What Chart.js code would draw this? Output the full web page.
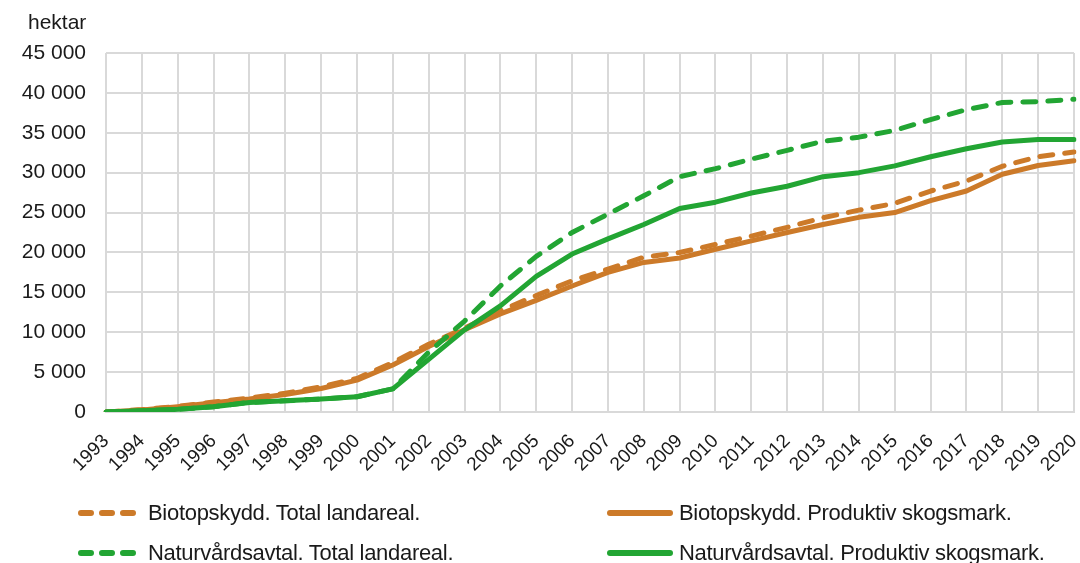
<!DOCTYPE html>
<html>
<head>
<meta charset="utf-8">
<script src="https://cdn.jsdelivr.net/npm/chart.js@4/dist/chart.umd.min.js"></script>
<style>
  html, body { margin: 0; padding: 0; background: #fff; }
  #wrap { position: relative; width: 1080px; height: 563px; overflow: hidden; font-family: "Liberation Sans", Arial, sans-serif; color: #1a1a1a; }
  #c { position: absolute; left: 0; top: 0; }
  #unit { position: absolute; left: 28px; top: 10px; font-size: 21px; }
  .lg { position: absolute; display: flex; align-items: center; font-size: 22px; letter-spacing: -0.3px; white-space: nowrap; }
  .lg svg { display: block; margin-right: 6px; }
</style>
</head>
<body>
<div id="wrap">
  <canvas id="c" width="1080" height="563"></canvas>
  <div id="unit">hektar</div>
  <div id="legend"></div>
</div>
<script>
const years = ["1993","1994","1995","1996","1997","1998","1999","2000","2001","2002","2003","2004","2005","2006","2007","2008","2009","2010","2011","2012","2013","2014","2015","2016","2017","2018","2019","2020"];

const biotopTotal = [0, 300, 700, 1250, 1750, 2350, 3150, 4200, 6200, 8500, 10500, 12700, 14600, 16450, 17900, 19400, 20000, 21000, 22050, 23150, 24350, 25300, 26150, 27700, 28950, 30800, 32000, 32600];
const biotopProd = [0, 250, 670, 1170, 1630, 2200, 2950, 4000, 5900, 8200, 10300, 12300, 14000, 15800, 17500, 18750, 19300, 20400, 21450, 22500, 23500, 24400, 25000, 26500, 27700, 29800, 30900, 31500];
const naturTotal = [0, 150, 330, 670, 1200, 1400, 1630, 1920, 2900, 7500, 11400, 15800, 19500, 22500, 24800, 27100, 29500, 30500, 31700, 32800, 33950, 34450, 35300, 36650, 37900, 38800, 38900, 39200];
const naturProd = [0, 150, 330, 670, 1200, 1400, 1630, 1920, 2900, 6600, 10300, 13300, 17000, 19800, 21700, 23500, 25500, 26300, 27450, 28300, 29500, 30000, 30850, 32000, 33000, 33850, 34150, 34150];

const seriesNames = ["Biotopskydd. Total landareal.", "Biotopskydd. Produktiv skogsmark.", "Naturvårdsavtal. Total landareal.", "Naturvårdsavtal. Produktiv skogsmark."];
const yTicks = [0, 5000, 10000, 15000, 20000, 25000, 30000, 35000, 40000, 45000];

const ORANGE = "#CC7A29";
const GREEN = "#22A533";
const DASH = [13, 12];

function ds(label, data, color, dashed, order) {
  return {
    label, data,
    borderColor: color, backgroundColor: color,
    borderWidth: 5, borderDash: dashed ? DASH : [],
    borderCapStyle: "round", borderJoinStyle: "round",
    pointRadius: 0, pointHoverRadius: 0, tension: 0, fill: false, order
  };
}

function fmt(v) {
  return String(v).replace(/\B(?=(\d{3})+(?!\d))/g, " ");
}

const chart = new Chart(document.getElementById("c"), {
  type: "line",
  data: {
    labels: years,
    datasets: [
      ds(seriesNames[0], biotopTotal, ORANGE, true, 3),
      ds(seriesNames[1], biotopProd, ORANGE, false, 4),
      ds(seriesNames[2], naturTotal, GREEN, true, 1),
      ds(seriesNames[3], naturProd, GREEN, false, 2)
    ]
  },
  options: {
    responsive: false,
    animation: false,
    events: [],
    layout: { padding: { left: 0, top: 53, right: 6, bottom: 0 } },
    plugins: { legend: { display: false }, tooltip: { enabled: false }, title: { display: false } },
    scales: {
      x: {
        offset: false,
        grid: { color: "#d9d9d9", lineWidth: 2, drawTicks: false },
        border: { color: "#d9d9d9", width: 2 },
        ticks: {
          autoSkip: false, minRotation: 45, maxRotation: 45, padding: 18,
          color: "#1a1a1a", font: { family: "'Liberation Sans', Arial, sans-serif", size: 19 }
        },
        afterFit(scale) { scale.height = 151; scale.paddingLeft = 0; scale.paddingRight = 0; }
      },
      y: {
        min: 0, max: 45000,
        grid: { color: "#d9d9d9", lineWidth: 2, drawTicks: false },
        border: { display: false },
        afterBuildTicks(scale) { scale.ticks = yTicks.map(v => ({ value: v })); },
        ticks: {
          padding: 20, color: "#1a1a1a",
          font: { family: "'Liberation Sans', Arial, sans-serif", size: 21 },
          callback: v => fmt(v)
        },
        afterFit(scale) { scale.width = 106; scale.paddingTop = 0; scale.paddingBottom = 0; }
      }
    }
  }
});

// HTML legend built from the dataset definitions
const legendPos = [
  { left: 78, top: 513, idx: 0 },
  { left: 607, top: 513, idx: 1 },
  { left: 78, top: 553, idx: 2 },
  { left: 607, top: 553, idx: 3 }
];
const lg = document.getElementById("legend");
legendPos.forEach(p => {
  const d = chart.data.datasets[p.idx];
  const dashed = d.borderDash.length > 0;
  const el = document.createElement("div");
  el.className = "lg";
  el.style.left = p.left + "px";
  el.style.top = (p.top - 13) + "px";
  const w = dashed ? 64 : 66;
  const line = dashed
    ? `<line x1="3" y1="4" x2="${w - 3}" y2="4" stroke="${d.borderColor}" stroke-width="6" stroke-linecap="round" stroke-dasharray="10 11"/>`
    : `<line x1="3" y1="4" x2="${w - 3}" y2="4" stroke="${d.borderColor}" stroke-width="6" stroke-linecap="round"/>`;
  el.innerHTML = `<svg width="${w}" height="8">${line}</svg><span>${d.label}</span>`;
  lg.appendChild(el);
});
</script>
</body>
</html>
